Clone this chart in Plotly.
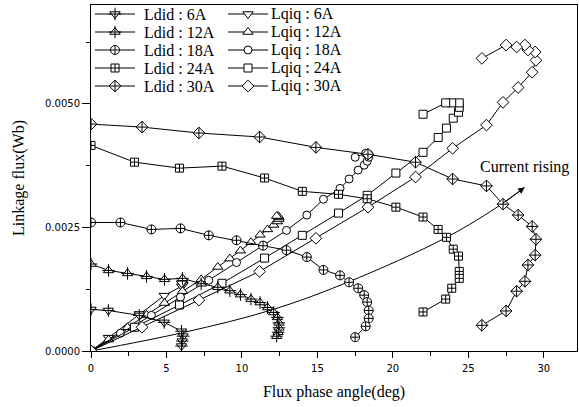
import plotly.graph_objects as go

# ---- data: flux phase angle (deg) shared by Ldid / Lqiq for each current ----
currents = ["6A", "12A", "18A", "24A", "30A"]

angle_6a = [0, 1.15, 3.2, 4.85, 6.0, 6.1, 6.05, 6.0]
ldid_6a = [0.00084, 0.00082, 0.00072, 0.00058, 0.00040, 0.00030, 0.00020, 0.00010]
lqiq_6a = [0, 0.00027, 0.00075, 0.00112, 0.00131, 0.00134, 0.00136, 0.00137]

angle_12a = [0, 1.16, 2.42, 3.68, 4.87, 6.06, 7.3, 8.4, 9.2, 9.9, 10.6, 11.2, 11.7,
             12.1, 12.35, 12.45, 12.45, 12.4, 12.3]
ldid_12a = [0.00176, 0.00163, 0.00157, 0.00151, 0.00145, 0.00147, 0.00136, 0.00129,
            0.00122, 0.00114, 0.00105, 0.00098, 0.00088, 0.00078, 0.00068, 0.00057,
            0.00047, 0.00038, 0.00030]
lqiq_12a = [0, 0.00023, 0.00048, 0.00073, 0.00097, 0.00121, 0.00145, 0.00170, 0.00187,
            0.00203, 0.00220, 0.00235, 0.00246, 0.00255, 0.00262, 0.00267, 0.00271,
            0.00273, 0.00273]

angle_18a = [0, 1.95, 4.0, 5.93, 7.8, 9.64, 11.4, 12.95, 14.3, 15.4, 16.5, 17.1, 17.7,
             18.1, 18.3, 18.4, 18.4, 18.2, 17.5]
ldid_18a = [0.00260, 0.00260, 0.00246, 0.00248, 0.00234, 0.00224, 0.00213, 0.00204,
            0.00190, 0.00164, 0.00153, 0.00139, 0.00127, 0.00113, 0.00099, 0.00082,
            0.00066, 0.00050, 0.00028]
lqiq_18a = [0, 0.00036, 0.00072, 0.00109, 0.00143, 0.00179, 0.00214, 0.00244, 0.00275,
            0.00307, 0.00329, 0.00348, 0.00366, 0.00376, 0.00384, 0.00392, 0.00398,
            0.00400, 0.00392]

angle_24a = [0, 2.88, 5.86, 8.68, 11.5, 14.0, 16.4, 18.3, 20.2, 22.0, 23.0, 23.55, 24.0,
             24.35, 24.4, 24.4, 23.9, 23.5, 22.0]
ldid_24a = [0.00416, 0.00382, 0.00370, 0.00374, 0.00350, 0.00323, 0.00317, 0.00308,
            0.00291, 0.00271, 0.00246, 0.00230, 0.00206, 0.00192, 0.00161, 0.00147,
            0.00127, 0.00105, 0.00079]
lqiq_24a = [0, 0.00048, 0.00093, 0.00137, 0.00188, 0.00234, 0.00279, 0.00315, 0.00360,
            0.00402, 0.00432, 0.00451, 0.00471, 0.00483, 0.00493, 0.00502, 0.00502,
            0.00502, 0.00479]

angle_30a = [0, 3.38, 7.15, 11.17, 14.9, 18.35, 21.5, 23.96, 26.2, 27.3, 28.3, 29.23,
             29.48, 29.43, 28.95, 28.75, 28.2, 27.5, 25.9]
ldid_30a = [0.00459, 0.00453, 0.00441, 0.00433, 0.00412, 0.00398, 0.00382, 0.00348,
            0.00334, 0.00297, 0.00275, 0.00252, 0.00226, 0.00194, 0.00174, 0.00141,
            0.00121, 0.00081, 0.00052]
lqiq_30a = [0, 0.00048, 0.00103, 0.00161, 0.00228, 0.00291, 0.00352, 0.00410, 0.00457,
            0.00503, 0.00533, 0.00564, 0.00588, 0.00605, 0.00609, 0.00619, 0.00615,
            0.00619, 0.00592]

# trend of the Ldid turning points as the current rises
trend_angle = [0, 6.2, 11.96, 17.0, 23.56, 27.2, 28.73]
trend_flux = [0, 0.00038, 0.00083, 0.00139, 0.00230, 0.00297, 0.00331]

x_ticks = [0, 5, 10, 15, 20, 25, 30]
y_ticks = [0.0, 0.0025, 0.0050]

angles = [angle_6a, angle_12a, angle_18a, angle_24a, angle_30a]
ldid = [ldid_6a, ldid_12a, ldid_18a, ldid_24a, ldid_30a]
lqiq = [lqiq_6a, lqiq_12a, lqiq_18a, lqiq_24a, lqiq_30a]

# ---- styling ----
SERIF = "Liberation Serif"
ldid_sym = ["triangle-down", "triangle-up", "circle-cross", "square-cross", "diamond-cross"]
lqiq_sym = ["triangle-down", "triangle-up", "circle", "square", "diamond"]
sym_size = {"triangle-down": 9, "triangle-up": 9, "circle": 8, "circle-cross": 9,
            "square": 8, "square-cross": 8, "diamond": 9, "diamond-cross": 9}
needs_cross = [True, True, False, False, False]

fig = go.Figure()


def add_series(x, y, symbol, cross, xaxis="x", yaxis="y", mode="lines+markers"):
    fig.add_trace(go.Scatter(
        x=x, y=y, mode=mode, xaxis=xaxis, yaxis=yaxis, showlegend=False,
        line=dict(color="black", width=1),
        marker=dict(symbol=symbol, size=sym_size[symbol], color="white",
                    line=dict(color="black", width=1)),
        hoverinfo="skip"))
    if cross:
        fig.add_trace(go.Scatter(
            x=x, y=y, mode="markers", xaxis=xaxis, yaxis=yaxis, showlegend=False,
            marker=dict(symbol="cross-thin", size=9, color="black",
                        line=dict(color="black", width=1)),
            hoverinfo="skip"))


# trend line with arrow
fig.add_trace(go.Scatter(x=trend_angle, y=trend_flux, mode="lines", showlegend=False,
                         line=dict(color="black", width=1, shape="spline"),
                         hoverinfo="skip"))
fig.add_annotation(x=trend_angle[-1], y=trend_flux[-1], ax=trend_angle[-2], ay=trend_flux[-2],
                   xref="x", yref="y", axref="x", ayref="y", text="", showarrow=True,
                   arrowhead=2, arrowsize=1.3, arrowwidth=1, arrowcolor="black")
fig.add_annotation(x=28.73, y=0.00372, xref="x", yref="y", text="Current rising",
                   showarrow=False, font=dict(family=SERIF, size=16, color="black"))

for i in range(5):
    add_series(angles[i], lqiq[i], lqiq_sym[i], False)
for i in range(5):
    add_series(angles[i], ldid[i], ldid_sym[i], needs_cross[i])

# ---- legend box drawn on an overlay axis measured in plot-area pixels ----
PLOT_W, PLOT_H = 486, 346
leg_rows = [9, 27, 45, 63, 81]
leg_cols = [(4, 44, 51), (137, 177, 178)]  # line start, line end, text start
for i, cur in enumerate(currents):
    ry = leg_rows[i]
    for c, (syms, name, cross) in enumerate([(ldid_sym, "Ldid", needs_cross[i]),
                                              (lqiq_sym, "Lqiq", False)]):
        x0, x1, xt = leg_cols[c]
        fig.add_trace(go.Scatter(x=[x0, x1], y=[ry, ry], mode="lines", xaxis="x2",
                                 yaxis="y2", showlegend=False, hoverinfo="skip",
                                 line=dict(color="black", width=1)))
        add_series([(x0 + x1) / 2], [ry], syms[i], cross, xaxis="x2", yaxis="y2",
                   mode="markers")
        fig.add_annotation(x=xt, y=ry, xref="x2", yref="y2", xanchor="left",
                           yanchor="middle", showarrow=False,
                           text=f"{name} : {cur}",
                           font=dict(family=SERIF, size=16, color="black"))

tickfont = dict(family="DejaVu Sans", size=10, color="black")
fig.update_layout(
    template="none",
    width=579, height=407,
    margin=dict(l=91, r=2, t=5, b=56),
    paper_bgcolor="white", plot_bgcolor="white",
    showlegend=False,
    xaxis=dict(range=[0, 32.2], tickvals=x_ticks, ticks="outside", ticklen=6,
               tickwidth=1, tickcolor="black", showline=True, linecolor="black",
               linewidth=1, mirror=True, showgrid=False, zeroline=False,
               automargin=False, tickfont=tickfont, ticklabelstandoff=2,
               minor=dict(dtick=2.5, tick0=0, ticks="outside", ticklen=4,
                          tickcolor="black", showgrid=False),
               title=dict(text="Flux phase angle(deg)", standoff=12,
                          font=dict(family=SERIF, size=16, color="black"))),
    yaxis=dict(range=[0, 0.007], tickvals=y_ticks, tickformat=".4f", ticks="outside",
               ticklen=8, tickwidth=1, tickcolor="black", showline=True,
               linecolor="black", linewidth=1, mirror=True, showgrid=False,
               zeroline=False, automargin=False, tickfont=tickfont,
               minor=dict(dtick=0.00125, tick0=0, ticks="outside", ticklen=4,
                          tickcolor="black", showgrid=False),
               title=dict(text="Linkage flux(Wb)", standoff=16,
                          font=dict(family=SERIF, size=16, color="black"))),
    xaxis2=dict(range=[0, PLOT_W], overlaying="x", anchor="y2", visible=False),
    yaxis2=dict(range=[PLOT_H, 0], overlaying="y", anchor="x2", visible=False),
)

fig.write_html("out.html")
